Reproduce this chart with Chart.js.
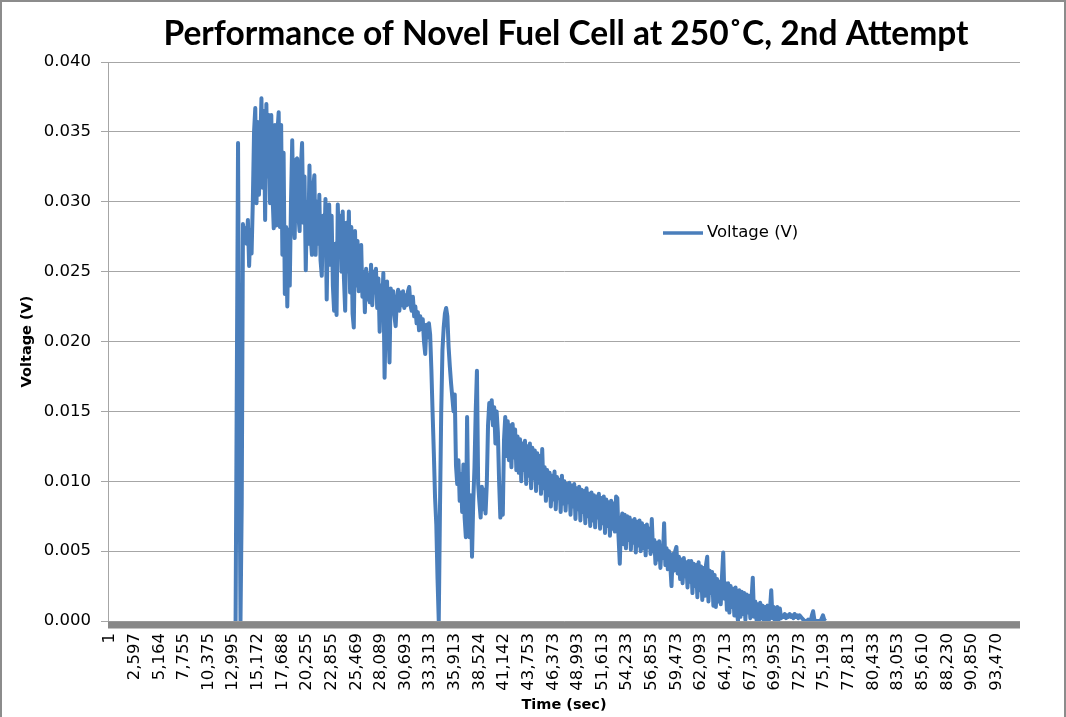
<!DOCTYPE html>
<html>
<head>
<meta charset="utf-8">
<title>Fuel Cell Voltage</title>
<script src="https://cdn.jsdelivr.net/npm/chart.js@4.4.1/dist/chart.umd.min.js"></script>
<style>
  html, body { margin: 0; padding: 0; background: #fff; }
  canvas { display: block; }
</style>
</head>
<body>
<canvas id="voltageChart" width="1066" height="717"></canvas>
<script>
// time labels printed under the category axis, one every 262 samples
const tickLabels = [1, 2597, 5164, 7755, 10375, 12995, 15172, 17688, 20255, 22855,
  25469, 28089, 30693, 33313, 35913, 38524, 41142, 43753, 46373, 48993,
  51613, 54233, 56853, 59473, 62093, 64713, 67333, 69953, 72573, 75193,
  77813, 80433, 83053, 85610, 88230, 90850, 93470];

// readings start just after the 12,995 label, twenty readings per label interval
const firstPos = 5.1;
const posStep = 0.05;

const voltage = [
  0, 0.0170, 0.0342, 0.0150, 0, 0.0084, 0.0284, 0.0276, 0.0281, 0.0270,
  0.0287, 0.0254, 0.0280, 0.0263, 0.0300, 0.0350, 0.0367, 0.0299, 0.0357, 0.0305,
  0.0340, 0.0374, 0.0310, 0.0365, 0.0287, 0.0370, 0.0318, 0.0362, 0.0299, 0.0362,
  0.0305, 0.0281, 0.0355, 0.0283, 0.0350, 0.0364, 0.0282, 0.0355, 0.0262, 0.0335,
  0.0234, 0.0282, 0.0225, 0.0280, 0.0240, 0.0300, 0.0344, 0.0290, 0.0274, 0.0330,
  0.0331, 0.0290, 0.0279, 0.0325, 0.0342, 0.0285, 0.0318, 0.0251, 0.0300, 0.0270,
  0.0326, 0.0275, 0.0262, 0.0310, 0.0319, 0.0262, 0.0300, 0.0270, 0.0305, 0.0258,
  0.0247, 0.0290, 0.0265, 0.0302, 0.0230, 0.0285, 0.0298, 0.0255, 0.0290, 0.0240,
  0.0222, 0.0270, 0.0219, 0.0298, 0.0262, 0.0290, 0.0250, 0.0293, 0.0245, 0.0222,
  0.0285, 0.0250, 0.0293, 0.0235, 0.0282, 0.0220, 0.0210, 0.0279, 0.0240, 0.0272,
  0.0236, 0.0262, 0.0269, 0.0232, 0.0250, 0.0221, 0.0252, 0.0230, 0.0248, 0.0228,
  0.0255, 0.0226, 0.0250, 0.0235, 0.0252, 0.0224, 0.0245, 0.0207, 0.0240, 0.0225,
  0.0249, 0.0174, 0.0220, 0.0243, 0.0215, 0.0185, 0.0238, 0.0220, 0.0236, 0.0218,
  0.0211, 0.0230, 0.0237, 0.0222, 0.0235, 0.0226, 0.0236, 0.0224, 0.0233, 0.0226,
  0.0236, 0.0239, 0.0226, 0.0222, 0.0232, 0.0218, 0.0225, 0.0213, 0.0221, 0.0208,
  0.0218, 0.0209, 0.0216, 0.0200, 0.0191, 0.0212, 0.0203, 0.0213, 0.0205, 0.0180,
  0.0149, 0.0120, 0.0088, 0.0069, 0.0030, 0, 0.0081, 0.0150, 0.0194, 0.0210,
  0.0220, 0.0224, 0.0218, 0.0196, 0.0182, 0.0170, 0.0160, 0.0150, 0.0162, 0.0111,
  0.0098, 0.0115, 0.0086, 0.0105, 0.0078, 0.0112, 0.0074, 0.0060, 0.0146, 0.0080,
  0.0060, 0.0090, 0.0046, 0.0085, 0.0110, 0.0150, 0.0179, 0.0098, 0.0085, 0.0074,
  0.0096, 0.0080, 0.0094, 0.0077, 0.0098, 0.0140, 0.0156, 0.0145, 0.0158, 0.0140,
  0.0153, 0.0127, 0.0150, 0.0135, 0.0100, 0.0074, 0.0080, 0.0076, 0.0130, 0.0146,
  0.0118, 0.0143, 0.0115, 0.0140, 0.0110, 0.0141, 0.0117, 0.0137, 0.0108, 0.0132,
  0.0106, 0.0130, 0.0100, 0.0127, 0.0108, 0.0129, 0.0098, 0.0125, 0.0104, 0.0127,
  0.0095, 0.0124, 0.0102, 0.0122, 0.0093, 0.0120, 0.0099, 0.0118, 0.0091, 0.0123,
  0.0095, 0.0110, 0.0086, 0.0108, 0.0090, 0.0106, 0.0082, 0.0104, 0.0087, 0.0107,
  0.0080, 0.0103, 0.0088, 0.0101, 0.0078, 0.0104, 0.0084, 0.0100, 0.0079, 0.0098,
  0.0085, 0.0099, 0.0076, 0.0097, 0.0082, 0.0098, 0.0073, 0.0095, 0.0080, 0.0096,
  0.0072, 0.0094, 0.0078, 0.0093, 0.0070, 0.0095, 0.0075, 0.0091, 0.0068, 0.0092,
  0.0072, 0.0090, 0.0067, 0.0089, 0.0074, 0.0091, 0.0066, 0.0088, 0.0070, 0.0089,
  0.0063, 0.0087, 0.0068, 0.0085, 0.0061, 0.0086, 0.0066, 0.0084, 0.0064, 0.0089,
  0.0088, 0.0060, 0.0041, 0.0070, 0.0077, 0.0055, 0.0076, 0.0052, 0.0075, 0.0058,
  0.0074, 0.0051, 0.0072, 0.0056, 0.0073, 0.0049, 0.0071, 0.0054, 0.0072, 0.0050,
  0.0070, 0.0052, 0.0068, 0.0047, 0.0069, 0.0053, 0.0066, 0.0048, 0.0073, 0.0050,
  0.0058, 0.0041, 0.0056, 0.0044, 0.0057, 0.0038, 0.0054, 0.0045, 0.0070, 0.0040,
  0.0052, 0.0037, 0.0050, 0.0040, 0.0025, 0.0048, 0.0036, 0.0050, 0.0053, 0.0034,
  0.0046, 0.0030, 0.0044, 0.0027, 0.0045, 0.0032, 0.0042, 0.0024, 0.0043, 0.0028,
  0.0043, 0.0020, 0.0041, 0.0025, 0.0040, 0.0017, 0.0042, 0.0022, 0.0039, 0.0015,
  0.0038, 0.0018, 0.0040, 0.0046, 0.0014, 0.0036, 0.0020, 0.0035, 0.0011, 0.0033,
  0.0010, 0.0030, 0.0014, 0.0028, 0.0012, 0.0032, 0.0049, 0.0016, 0.0027, 0.0008,
  0.0027, 0.0006, 0.0025, 0.0010, 0.0023, 0.0004, 0.0024, 0.0007, 0, 0.0022,
  0.0003, 0.0021, 0.0005, 0.0020, 0.0001, 0.0019, 0.0006, 0.0018, 0.0002, 0.0016,
  0.0031, 0.0003, 0.0014, 0.0001, 0.0012, 0, 0.0013, 0.0002, 0.0011, 0,
  0.0010, 0.0001, 0.0011, 0, 0.0009, 0.0022, 0.0002, 0.0010, 0, 0.0008,
  0.0010, 0.0001, 0.0009, 0.0002, 0.0004, 0.0003, 0.0005, 0.0002, 0.0004, 0.0003,
  0.0005, 0.0003, 0.0004, 0.0002, 0.0005, 0.0003, 0.0004, 0.0002, 0.0004, 0.0003,
  0.0002, 0.0001, 0, 0, 0, 0.0001, 0, 0, 0.0004, 0.0007,
  0.0001, 0, 0, 0, 0, 0, 0.0002, 0.0004, 0.0001, 0
];

const chartTitle = 'Performance of Novel Fuel Cell at 250˚C, 2nd Attempt';

const FONT = 'DejaVu Sans';
const LINE_BLUE = '#4A7EBB';
const GRID_GREY = '#A6A6A6';

// white page, grey frame and the big title over the plot
const frame = {
  id: 'frame',
  beforeDraw(chart) {
    const ctx = chart.ctx;
    ctx.save();
    ctx.fillStyle = '#fff';
    ctx.fillRect(0, 0, chart.width, chart.height);
    ctx.strokeStyle = '#8C8C8C';
    ctx.lineWidth = 2;
    ctx.strokeRect(1, 1, chart.width - 2, chart.height + 4);
    ctx.fillStyle = '#000';
    ctx.font = 'bold 33.5px Lato';
    ctx.textAlign = 'center';
    ctx.textBaseline = 'middle';
    ctx.fillText(chartTitle, 566, 34);
    ctx.restore();
  }
};

// thick category axis line, painted over the series like the spreadsheet does
const axisBar = {
  id: 'axisBar',
  afterDatasetsDraw(chart) {
    const { ctx, chartArea } = chart;
    ctx.save();
    ctx.fillStyle = '#878787';
    ctx.fillRect(chartArea.left, chartArea.bottom + 0.5, chartArea.right - chartArea.left, 7);
    ctx.restore();
  }
};

// legend entry sits inside the plot, right of centre
const legendEntry = {
  id: 'legendEntry',
  afterDraw(chart) {
    const ctx = chart.ctx;
    const ds = chart.data.datasets[0];
    ctx.save();
    ctx.strokeStyle = ds.borderColor;
    ctx.lineWidth = 3.5;
    ctx.beginPath();
    ctx.moveTo(663, 233);
    ctx.lineTo(703, 233);
    ctx.stroke();
    ctx.fillStyle = '#000';
    ctx.font = '16.5px "' + FONT + '"';
    ctx.textBaseline = 'middle';
    ctx.fillText(ds.label, 707, 233);
    ctx.restore();
  }
};

function buildPoints() {
  return voltage.map((v, i) => ({ x: firstPos + i * posStep, y: v }));
}

function drawVoltageChart() {
  const ctx = document.getElementById('voltageChart').getContext('2d');

  new Chart(ctx, {
    type: 'line',
    data: {
      datasets: [{
        label: 'Voltage (V)',
        data: buildPoints(),
        borderColor: LINE_BLUE,
        borderWidth: 4,
        borderJoinStyle: 'round',
        pointRadius: 0,
        tension: 0,
        fill: false
      }]
    },
    options: {
      responsive: false,
      animation: false,
      devicePixelRatio: 1,
      layout: { padding: { left: 0, right: 46, top: 62, bottom: 0 } },
      plugins: {
        legend: { display: false },
        tooltip: { enabled: false },
        title: { display: false }
      },
      scales: {
        x: {
          type: 'linear',
          min: -0.08,
          max: 36.95,
          afterBuildTicks: axis => {
            axis.ticks = tickLabels.map((t, i) => ({ value: i }));
          },
          afterFit: axis => { axis.height = 96; },
          grid: { display: false, drawTicks: false },
          border: { display: false },
          ticks: {
            autoSkip: false,
            minRotation: 90,
            maxRotation: 90,
            padding: 12,
            color: '#000',
            font: { family: FONT, size: 16.5 },
            callback: (value, index) => tickLabels[index].toLocaleString('en-US')
          },
          title: {
            display: true,
            text: 'Time (sec)',
            color: '#000',
            font: { family: FONT, size: 14.5, weight: 'bold' },
            padding: { top: 0, bottom: 3 }
          }
        },
        y: {
          min: 0,
          max: 0.04,
          afterFit: axis => { axis.width = 108; },
          ticks: {
            stepSize: 0.005,
            padding: 10,
            color: '#000',
            font: { family: FONT, size: 16.5 },
            callback: value => value.toFixed(3)
          },
          grid: { color: GRID_GREY, tickLength: 7 },
          border: { color: GRID_GREY },
          title: {
            display: true,
            text: 'Voltage (V)',
            color: '#000',
            font: { family: FONT, size: 14.5, weight: 'bold' },
            padding: { top: 19, bottom: 0 }
          }
        }
      }
    },
    plugins: [frame, axisBar, legendEntry]
  });
}

document.addEventListener('DOMContentLoaded', drawVoltageChart);
</script>
</body>
</html>
